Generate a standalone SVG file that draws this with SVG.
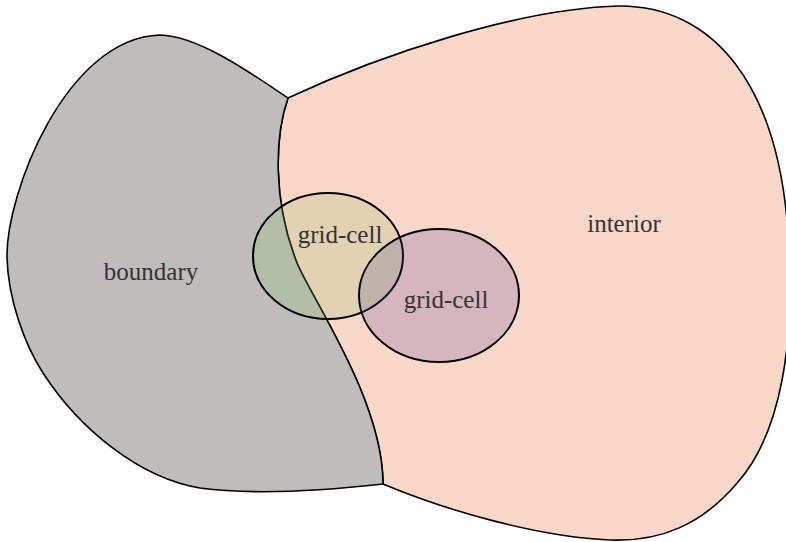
<svg xmlns="http://www.w3.org/2000/svg" width="786" height="542" viewBox="0 0 786 542">
  <style>
    .region { stroke: #000; stroke-width: 1.6; stroke-linejoin: round; }
    .cell { stroke: #000; stroke-width: 2; }
    .label { font-size: 25px; fill: #333; text-anchor: middle; }
  </style>
  <rect width="786" height="542" fill="#fff"/>

  <!-- interior region (right blob) -->
  <g id="interior">
    <path class="region" fill="#fad8c9"
          d="M288,98 C380,55 520,8 620,6 C710,6 782,80 789,250 C794,340 782,432 738,482 C702,525 660,542 610,540 C540,537 450,512 383,484 C383,400 310,296 297,263 C272,200 275,135 288,98 Z"/>
    <text class="label" font-family="'Liberation Serif', 'DejaVu Serif', serif" x="624" y="232">interior</text>
  </g>

  <!-- boundary region (left blob) -->
  <g id="boundary">
    <path class="region" fill="#bebdbb"
          d="M383,484 C330,490 260,496 200,488 C140,478 80,430 43,373 C25,345 8,300 7,257 C6,195 65,38 160,35 C200,36 255,76 288,98 C275,135 272,200 297,263 C310,296 383,400 383,484 Z"/>
    <text class="label" font-family="'Liberation Serif', 'DejaVu Serif', serif" x="151" y="280">boundary</text>
  </g>

  <!-- translucent grid cells -->
  <g id="grid-cell-1">
    <ellipse class="cell" cx="328" cy="256" rx="75" ry="63" fill="rgb(140,193,100)" fill-opacity="0.22"/>
  </g>
  <g id="grid-cell-2">
    <ellipse class="cell" cx="439" cy="295.5" rx="80" ry="66.5" fill="rgb(82,66,151)" fill-opacity="0.22"/>
  </g>

  <g id="cell-labels">
    <text class="label" font-family="'Liberation Serif', 'DejaVu Serif', serif" x="340" y="243">grid-cell</text>
    <text class="label" font-family="'Liberation Serif', 'DejaVu Serif', serif" x="446" y="308">grid-cell</text>
  </g>
</svg>
